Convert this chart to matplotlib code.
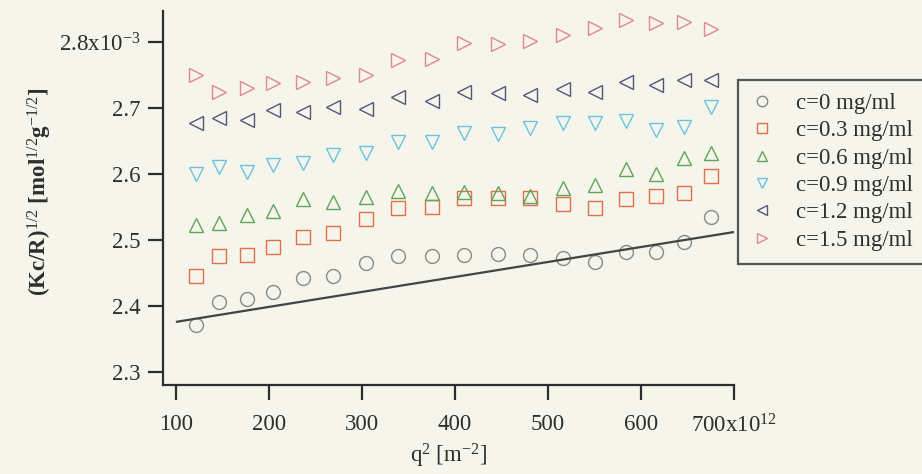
import numpy as np
import matplotlib
matplotlib.use("Agg")
import matplotlib.pyplot as plt

plt.rcParams['font.family'] = ['Liberation Serif', 'DejaVu Serif']
plt.rcParams['mathtext.fontset'] = 'custom'
plt.rcParams['mathtext.rm'] = 'Liberation Serif'
plt.rcParams['mathtext.it'] = 'Liberation Serif:italic'
plt.rcParams['mathtext.bf'] = 'Liberation Serif:bold'

# q^2 values (x 10^12 m^-2)
q2 = [121.0, 146.2, 175.8, 204.3, 236.6, 268.3, 303.8, 338.2, 375.3, 410.2,
      445.7, 480.6, 516.1, 550.0, 584.4, 616.1, 646.2, 675.8]

# (Kc/R)^1/2 values (x 10^-3)
c0 = [2.371, 2.406, 2.411, 2.421, 2.442, 2.445, 2.465, 2.476, 2.476, 2.477,
      2.479, 2.477, 2.473, 2.467, 2.482, 2.482, 2.497, 2.535]
c03 = [2.445, 2.476, 2.477, 2.489, 2.505, 2.511, 2.532, 2.548, 2.550, 2.564,
       2.564, 2.564, 2.555, 2.548, 2.562, 2.567, 2.571, 2.597]
c06 = [2.523, 2.526, 2.538, 2.544, 2.562, 2.558, 2.565, 2.574, 2.571, 2.573,
       2.571, 2.567, 2.579, 2.583, 2.608, 2.600, 2.624, 2.632]
c09 = [2.600, 2.611, 2.603, 2.614, 2.617, 2.629, 2.632, 2.648, 2.648, 2.662,
       2.661, 2.670, 2.677, 2.677, 2.680, 2.667, 2.671, 2.702]
c12 = [2.677, 2.685, 2.682, 2.697, 2.694, 2.702, 2.698, 2.717, 2.711, 2.724,
       2.723, 2.720, 2.729, 2.724, 2.739, 2.735, 2.742, 2.742]
c15 = [2.750, 2.724, 2.730, 2.738, 2.739, 2.745, 2.750, 2.773, 2.774, 2.798,
       2.797, 2.802, 2.811, 2.821, 2.833, 2.829, 2.830, 2.820]

labels = ['c=0 mg/ml', 'c=0.3 mg/ml', 'c=0.6 mg/ml', 'c=0.9 mg/ml',
          'c=1.2 mg/ml', 'c=1.5 mg/ml']
series = [c0, c03, c06, c09, c12, c15]
markers = ['o', 's', '^', 'v', '<', '>']
colors = ['#8a8a86', '#e0704a', '#5fa55a', '#6cc3e0', '#55557a', '#e08898']

# linear fit of c=0 data (extrapolation line)
fit_intercept = 2.353
fit_slope = 0.000227
fit_range = [101, 700]

xticks = [100, 200, 300, 400, 500, 600, 700]
xticklabels = ['100', '200', '300', '400', '500', '600', r'700x10$^{12}$']
yticks = [2.3, 2.4, 2.5, 2.6, 2.7, 2.8]
yticklabels = ['2.3', '2.4', '2.5', '2.6', '2.7', r'2.8x10$^{-3}$']

bg = '#f5f5eb'
ink = '#2e2e2e'

fig = plt.figure(figsize=(9.22, 4.74), dpi=100, facecolor=bg)
ax = fig.add_axes([163/922, 1-385/474, (734-163)/922, (385-11)/474])
ax.set_facecolor(bg)

for y, m, c, lab in zip(series, markers, colors, labels):
    ax.plot(q2, y, linestyle='none', marker=m, markersize=10,
            markerfacecolor='none', markeredgecolor=c, markeredgewidth=1.0,
            label=lab)

fx = np.linspace(fit_range[0], fit_range[1], 50)
ax.plot(fx, fit_intercept + fit_slope*fx, color='#444444', lw=1.6)

ax.set_xlim(86, 700)
ax.set_ylim(2.280, 2.847)
ax.set_xticks(xticks)
ax.set_xticklabels(xticklabels)
ax.set_yticks(yticks)
ax.set_yticklabels(yticklabels)

for s in ['top', 'right']:
    ax.spines[s].set_visible(False)
for s in ['left', 'bottom']:
    ax.spines[s].set_linewidth(1.6)
    ax.spines[s].set_color(ink)

ax.tick_params(axis='both', direction='out', length=11, width=1.6,
               colors=ink, labelsize=16.5, pad=5)
ax.tick_params(axis='x', pad=10)

ax.set_xlabel(r'q$^{2}$ [m$^{-2}$]', fontsize=16.5, color=ink, labelpad=3)
fig.text(40/922, 1-192/474,
         r'(Kc/R)$^{1/2}$ [mol$^{1/2}$g$^{-1/2}$]',
         rotation=90, ha='center', va='center', fontsize=16.5,
         color=ink, fontweight='bold')

leg = ax.legend(loc='upper left', bbox_to_anchor=(738/922, 1-80/474),
                bbox_transform=fig.transFigure, frameon=True, fancybox=False,
                fontsize=16.5, markerscale=0.75, handlelength=1.0,
                handletextpad=1.0, labelspacing=0.28, borderpad=0.55,
                borderaxespad=0)
leg.get_frame().set_edgecolor(ink)
leg.get_frame().set_linewidth(1.6)
leg.get_frame().set_facecolor(bg)
for t in leg.get_texts():
    t.set_color(ink)

fig.savefig('out.png', dpi=100, facecolor=bg)
